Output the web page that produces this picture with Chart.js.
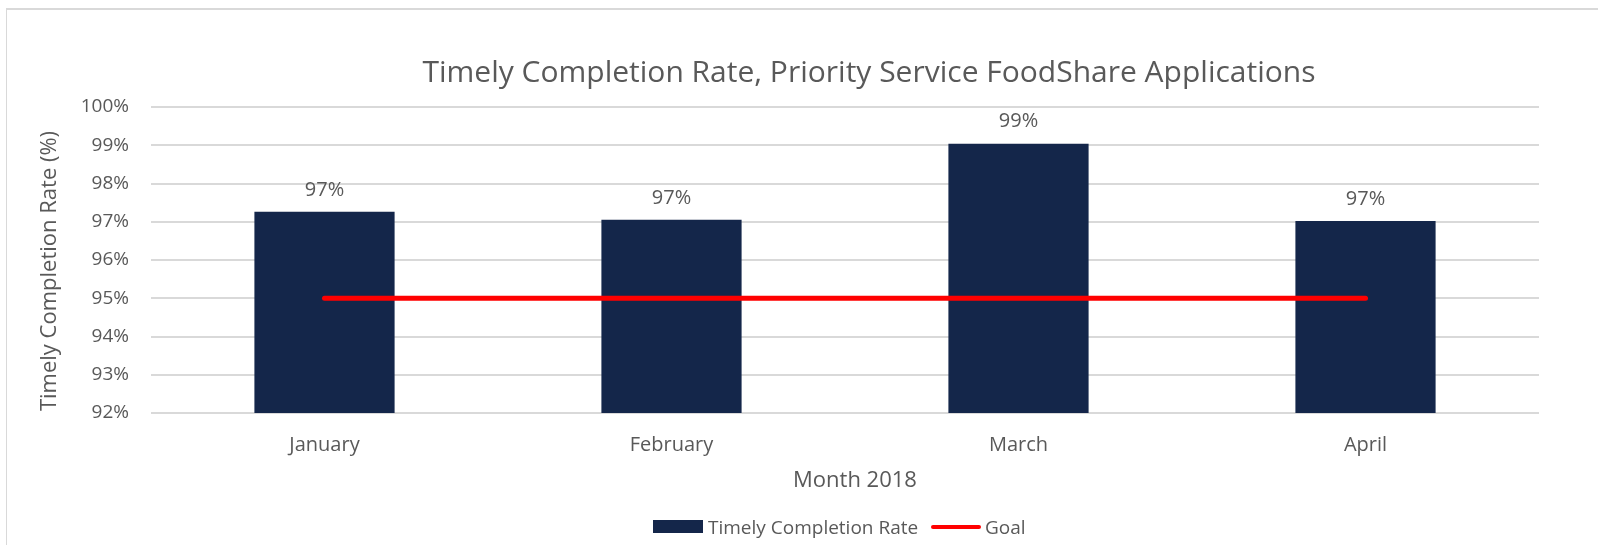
<!DOCTYPE html>
<html>
<head>
<meta charset="utf-8">
<script src="https://cdn.jsdelivr.net/npm/chart.js@4.4.1/dist/chart.umd.min.js"></script>
<style>
  html, body { margin: 0; padding: 0; background: #ffffff; }
  #wrap { position: relative; width: 1598px; height: 545px; overflow: hidden; }
  #frame { position: absolute; left: 6px; top: 8px; width: 1700px; height: 700px;
           border-left: 1px solid #d9d9d9; border-top: 2px solid #d9d9d9; box-sizing: border-box; }
  canvas { position: absolute; left: 0; top: 0; }
  #title { position: absolute; left: 369px; width: 1000px; top: 50px; height: 42px; line-height: 42px;
           text-align: center; font-family: "Open Sans", sans-serif; font-size: 30px; color: #595959; white-space: nowrap; }
  #legend { position: absolute; top: 515px; left: 0; width: 1598px; height: 24px;
            font-family: "Open Sans", sans-serif; font-size: 19px; color: #595959; }
  .lg { position: absolute; top: 0; height: 24px; line-height: 24px; white-space: nowrap; }
  .sw { position: absolute; }
</style>
</head>
<body>
<div id="wrap">
  <div id="frame"></div>
  <canvas id="c" width="1598" height="545"></canvas>
  <div id="title"></div>
  <div id="legend"></div>
</div>
<script>
const categories = ["January", "February", "March", "April"];
const completionRate = [97.26, 97.05, 99.04, 97.02];
const goal = [95, 95, 95, 95];
const yTicks = [92, 93, 94, 95, 96, 97, 98, 99, 100];
const titleText = "Timely Completion Rate, Priority Service FoodShare Applications";
const yTitle = "Timely Completion Rate (%)";
const xTitle = "Month 2018";
const seriesNames = ["Timely Completion Rate", "Goal"];

const FONT = '"Open Sans", sans-serif';
const TXT = '#595959';
const NAVY = '#14264a';
const RED = '#ff0000';

const valueLabels = {
  id: 'valueLabels',
  afterDatasetsDraw(chart) {
    const ctx = chart.ctx;
    ctx.save();
    ctx.font = '20px ' + FONT;
    ctx.fillStyle = TXT;
    ctx.textAlign = 'center';
    ctx.textBaseline = 'middle';
    chart.data.datasets.forEach((ds, di) => {
      if (ds.type !== 'bar') return;
      chart.getDatasetMeta(di).data.forEach((bar, i) => {
        ctx.fillText(Math.round(ds.data[i]) + '%', bar.x, bar.y - 22);
      });
    });
    ctx.restore();
  }
};

// shift axis titles slightly, as in the original layout
const titleShift = {
  id: 'titleShift',
  beforeDraw(chart) {
    const shifts = { x: [10, 0], y: [0, 11] };
    Object.keys(shifts).forEach(id => {
      const sc = chart.scales[id];
      if (!sc || sc._shiftPatched) return;
      const orig = sc.drawTitle;
      sc.drawTitle = function () {
        const ctx = this.ctx;
        ctx.save();
        ctx.translate(shifts[id][0], shifts[id][1]);
        orig.apply(this, arguments);
        ctx.restore();
      };
      sc._shiftPatched = true;
    });
  }
};

new Chart(document.getElementById('c'), {
  data: {
    labels: categories,
    datasets: [
      {
        type: 'line', label: seriesNames[1], data: goal,
        borderColor: RED, backgroundColor: RED, borderWidth: 5,
        pointRadius: 0, borderCapStyle: 'round', order: 0
      },
      {
        type: 'bar', label: seriesNames[0], data: completionRate,
        backgroundColor: NAVY, categoryPercentage: 1.0, barPercentage: 0.404, order: 1
      }
    ]
  },
  plugins: [valueLabels, titleShift],
  options: {
    responsive: false,
    animation: false,
    layout: { padding: { left: 0, right: 59, top: 107, bottom: 0 } },
    plugins: {
      legend: { display: false },
      tooltip: { enabled: false },
      title: { display: false }
    },
    scales: {
      x: {
        grid: { display: false, drawTicks: false },
        border: { display: false },
        ticks: { color: TXT, font: { family: FONT, size: 20 }, padding: 20 },
        title: { display: true, text: xTitle, color: TXT, font: { family: FONT, size: 22 }, padding: { top: 0, bottom: 51 } },
        afterFit(s) { s.height = 132; }
      },
      y: {
        min: 92, max: 100,
        afterBuildTicks(s) { s.ticks = yTicks.map(v => ({ value: v })); },
        grid: { color: '#d9d9d9', lineWidth: 2, drawTicks: false },
        border: { display: false },
        ticks: { color: TXT, font: { family: FONT, size: 19 }, padding: 22, callback: v => v + '%' },
        title: { display: true, text: yTitle, color: TXT, font: { family: FONT, size: 22 }, padding: { top: 37, bottom: 0 } },
        afterFit(s) { s.width = 151; }
      }
    }
  }
});

document.getElementById('title').textContent = titleText;

// HTML legend
const lg = document.getElementById('legend');
lg.innerHTML =
  '<div class="sw" style="left:653px;top:5px;width:50px;height:13px;background:' + NAVY + '"></div>' +
  '<div class="lg" style="left:708px">' + seriesNames[0] + '</div>' +
  '<div class="sw" style="left:931px;top:10px;width:50px;height:4px;border-radius:2px;background:' + RED + '"></div>' +
  '<div class="lg" style="left:985px">' + seriesNames[1] + '</div>';
</script>
</body>
</html>
